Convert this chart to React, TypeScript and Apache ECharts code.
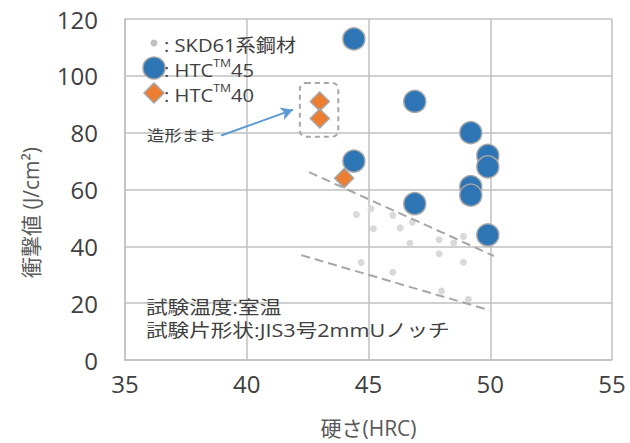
import React, { useEffect, useRef } from "react";
import * as echarts from "echarts";

// SKD61 series steel (small gray dots): [HRC, J/cm2]
const skd61Points: [number, number][] = [
  [44.5, 51.2], [45.1, 53.2], [46.0, 50.9], [45.2, 46.2], [46.3, 46.5],
  [46.8, 48.5], [46.7, 41.1], [47.9, 42.3], [48.5, 41.2], [48.9, 43.5],
  [47.9, 37.4], [48.9, 34.4], [44.7, 34.3], [46.0, 30.9], [48.0, 24.3],
  [49.1, 21.4],
];
// HTC45 (blue circles)
const htc45Points: [number, number][] = [
  [44.4, 113], [44.4, 70], [46.9, 91], [46.9, 55], [49.2, 80],
  [49.2, 61], [49.2, 58], [49.9, 72], [49.9, 68], [49.9, 44],
];
// HTC40 (orange diamonds)
const htc40Points: [number, number][] = [
  [43.0, 91], [43.0, 85], [44.0, 64],
];
// dashed trend band lines
const upperTrend: [number, number][] = [[42.56, 66.1], [50.15, 36.6]];
const lowerTrend: [number, number][] = [[42.24, 36.9], [49.98, 17.5]];
// arrow pointing to the as-built samples
const arrowLine: [number, number][] = [[38.95, 79.0], [41.9, 88.1]];
// dashed box around as-built samples (corners)
const boxCorners: [number, number][] = [[42.18, 97.5], [43.76, 78.6]];

const xTickRange = { min: 35, max: 55, interval: 5 };
const yTickRange = { min: 0, max: 120, interval: 20 };

const FONT = "'Open Sans', 'Noto Sans CJK JP', sans-serif";
const GRID_COLOR = "#c0c0c0";
const TEXT_COLOR = "#404040";

export default function App() {
  const ref = useRef<HTMLDivElement>(null);
  useEffect(() => {
    if (!ref.current) return;
    const chart = echarts.init(ref.current, undefined, { renderer: "svg" });
    chart.setOption({
      animation: false,
      backgroundColor: "#ffffff",
      textStyle: { fontFamily: FONT },
      grid: { left: 125, right: 18, top: 19, bottom: 82 },
      xAxis: {
        type: "value",
        ...xTickRange,
        name: "硬さ(HRC)",
        nameLocation: "middle",
        nameGap: 57,
        nameTextStyle: { fontSize: 21, color: "#595959", fontFamily: FONT },
        axisLine: { show: true, lineStyle: { color: GRID_COLOR, width: 1.5 } },
        axisTick: { show: false },
        axisLabel: { fontSize: 24, color: TEXT_COLOR, margin: 11, fontFamily: FONT },
        splitLine: { show: true, lineStyle: { color: GRID_COLOR, width: 1.5 } },
      },
      yAxis: {
        type: "value",
        ...yTickRange,
        name: "衝撃値 (J/cm²)",
        nameLocation: "middle",
        nameGap: 84,
        nameTextStyle: { fontSize: 21, color: "#595959", fontFamily: FONT, padding: [0, 46, 0, 0] },
        axisLine: { show: true, lineStyle: { color: GRID_COLOR, width: 1.5 } },
        axisTick: { show: false },
        axisLabel: { fontSize: 24, color: TEXT_COLOR, margin: 27, fontFamily: FONT },
        splitLine: { show: true, lineStyle: { color: GRID_COLOR, width: 1.5 } },
      },
      series: [
        {
          name: "SKD61系鋼材",
          type: "scatter",
          data: skd61Points,
          symbol: "circle",
          symbolSize: 7,
          itemStyle: { color: "#d9d9d9", opacity: 1 },
          z: 2,
          markLine: {
            silent: true,
            symbol: ["none", "none"],
            label: { show: false },
            lineStyle: { color: "#a6a6a6", width: 2, type: [9, 5] },
            data: [
              [{ coord: upperTrend[0] }, { coord: upperTrend[1] }],
              [{ coord: lowerTrend[0] }, { coord: lowerTrend[1] }],
            ],
          },
        },
        {
          name: "HTC45",
          type: "scatter",
          data: htc45Points,
          symbol: "circle",
          symbolSize: 22,
          itemStyle: { color: "#2e75b6", borderColor: "#a6a6a6", borderWidth: 1.5, opacity: 1 },
          z: 4,
          markLine: {
            silent: true,
            symbol: ["none", "arrow"],
            symbolSize: [10, 12],
            label: { show: false },
            lineStyle: { color: "#5b9bd5", width: 2, type: "solid" },
            data: [[{ coord: arrowLine[0] }, { coord: arrowLine[1] }]],
          },
        },
        {
          name: "HTC40",
          type: "scatter",
          data: htc40Points,
          symbol: "diamond",
          symbolSize: 19,
          itemStyle: { color: "#ed7d31", borderColor: "#a6a6a6", borderWidth: 1.5, opacity: 1 },
          z: 5,
        },
      ],
    });

    const p1 = chart.convertToPixel({ gridIndex: 0 }, boxCorners[0]) as number[];
    const p2 = chart.convertToPixel({ gridIndex: 0 }, boxCorners[1]) as number[];

    const legendText = (x: number, y: number, base: string, num: string | null) => ({
      type: "text",
      x,
      y,
      scaleX: 1.12,
      style: {
        text: num === null ? `{a|${base}}` : `{a|${base}}{s|TM}{a|${num}}`,
        verticalAlign: "middle",
        rich: {
          a: { fontSize: 18, fill: TEXT_COLOR, fontFamily: FONT, verticalAlign: "bottom", lineHeight: 22 },
          s: { fontSize: 11, fill: TEXT_COLOR, fontFamily: FONT, verticalAlign: "top", lineHeight: 22 },
        },
      },
      z: 10,
    });

    chart.setOption({
      graphic: [
        {
          type: "rect",
          shape: { x: p1[0], y: p1[1], width: p2[0] - p1[0], height: p2[1] - p1[1], r: 6 },
          style: { fill: "none", stroke: "#a6a6a6", lineWidth: 2, lineDash: [5, 4] },
          z: 1,
        },
        { type: "circle", shape: { cx: 154, cy: 43, r: 3.5 }, style: { fill: "#bfbfbf" }, z: 10 },
        { type: "circle", shape: { cx: 154, cy: 68, r: 11 }, style: { fill: "#2e75b6", stroke: "#a6a6a6", lineWidth: 1.5 }, z: 10 },
        {
          type: "polygon",
          shape: { points: [[154, 83], [164, 93], [154, 103], [144, 93]] },
          style: { fill: "#ed7d31", stroke: "#a6a6a6", lineWidth: 1.5 },
          z: 10,
        },
        legendText(164, 43, ": SKD61系鋼材", null),
        legendText(164, 68, ": HTC", "45"),
        legendText(164, 93, ": HTC", "40"),
        {
          type: "text",
          x: 147,
          y: 135,
          scaleX: 1.15,
          style: { text: "造形まま", fontSize: 15, fill: TEXT_COLOR, fontFamily: FONT, verticalAlign: "middle" },
          z: 10,
        },
        {
          type: "text",
          x: 146,
          y: 307,
          scaleX: 1.2,
          style: { text: "試験温度:室温", fontSize: 18, fill: TEXT_COLOR, fontFamily: FONT, verticalAlign: "middle" },
          z: 10,
        },
        {
          type: "text",
          x: 146,
          y: 330,
          scaleX: 1.2,
          style: { text: "試験片形状:JIS3号2mmUノッチ", fontSize: 18, fill: TEXT_COLOR, fontFamily: FONT, verticalAlign: "middle" },
          z: 10,
        },
      ],
    });

    return () => chart.dispose();
  }, []);
  return <div ref={ref} style={{ position: "absolute", left: 0, top: 0, width: 630, height: 443 }} />;
}
